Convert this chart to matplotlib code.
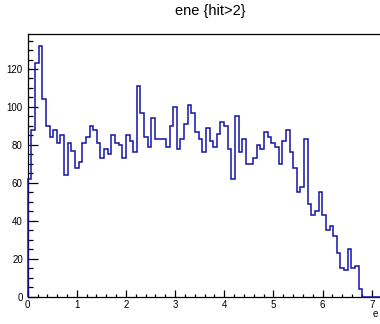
import matplotlib
matplotlib.use('Agg')
import matplotlib.pyplot as plt
from matplotlib.ticker import MultipleLocator
import numpy as np

plt.rcParams.update({
    'font.family': ['Liberation Sans', 'DejaVu Sans'],
    'font.size': 7,
})

# histogram of ene for hit>2 : 100 bins on [0, 7.4]
bin_width = 0.074
n_bins = 100
counts = [
    62, 88, 123, 132, 104, 90, 84, 88, 81, 85,
    64, 81, 77, 68, 71, 81, 84, 90, 88, 81,
    73, 78, 75, 85, 81, 80, 73, 85, 82, 76,
    111, 97, 84, 79, 94, 83, 83, 83, 79, 90,
    100, 78, 83, 91, 101, 97, 87, 83, 76, 89,
    82, 79, 86, 92, 90, 78, 62, 95, 76, 83,
    70, 70, 73, 80, 78, 87, 84, 81, 79, 70,
    82, 88, 76, 68, 55, 58, 83, 49, 43, 45,
    55, 43, 35, 37, 32, 23, 15, 14, 25, 15,
    16, 4, 0, 0, 0, 0, 0, 0, 0, 0,
]
edges = np.arange(n_bins + 1) * bin_width

title = "ene {hit>2}"
xlabel = "e"

fig = plt.figure(figsize=(3.8, 3.24), dpi=100)
W, H = 380.0, 324.0
x0, y_axis, y_top = 27.7, 296.7, 33.7
x_end = x0 + 7.4 * 49.14
ax = fig.add_axes([x0 / W, (H - y_axis) / H, (x_end - x0) / W, (y_axis - y_top) / H])

ax.stairs(counts, edges, baseline=0, color='#1414a8', linewidth=1.1,
          clip_on=False, zorder=3)

ax.set_xlim(0, 7.4)
ax.set_ylim(0, max(counts) * 1.05)

ax.xaxis.set_major_locator(MultipleLocator(1))
ax.xaxis.set_minor_locator(MultipleLocator(0.2))
ax.yaxis.set_major_locator(MultipleLocator(20))
ax.yaxis.set_minor_locator(MultipleLocator(5))

ax.tick_params(axis='both', which='both', direction='in', width=0.9,
               top=False, right=False, labelsize=7, colors='black')
ax.tick_params(axis='y', which='major', length=7.5, pad=3.5)
ax.tick_params(axis='y', which='minor', length=3.8)
ax.tick_params(axis='x', which='major', length=5, pad=2.5)
ax.tick_params(axis='x', which='minor', length=2.3)

for sp in ax.spines.values():
    sp.set_linewidth(0.9)
    sp.set_color('black')

fig.text(210 / W, 1 - 11 / H, title, ha='center', va='center', fontsize=10.5)
fig.text(378 / W, (H - 317) / H, xlabel, ha='right', va='baseline', fontsize=7)

fig.savefig('out.png', dpi=100)
